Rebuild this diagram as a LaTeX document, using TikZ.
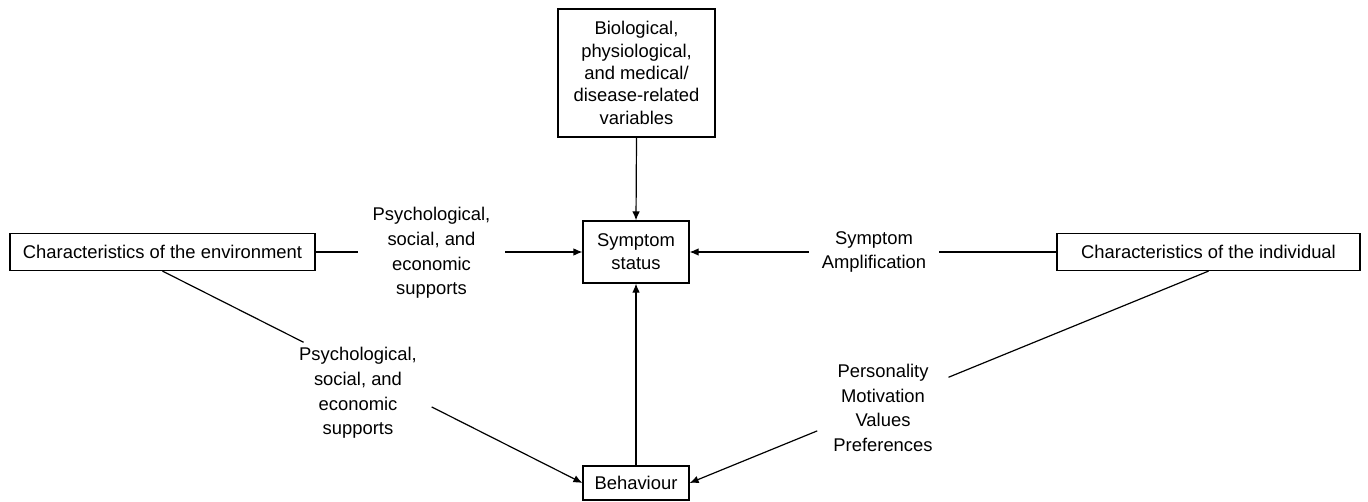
\documentclass[tikz,border=0pt]{standalone}
\usepackage{fontspec}
\setmainfont{Liberation Sans}
\usetikzlibrary{arrows.meta,calc}
\begin{document}
\begin{tikzpicture}[x=0.5pt,y=-0.5pt,
  font=\fontsize{9.2}{11.2}\selectfont,
  box/.style={draw, line width=0.6pt, align=center, inner sep=0pt},
  lab/.style={align=center, inner sep=0pt, font=\fontsize{9.2}{12.3}\selectfont},
  conn/.style={line width=0.6pt},
  arr/.style={conn, -{Latex[length=4.5pt,width=3.8pt]}}]
\useasboundingbox (0,0) rectangle (1368,502);
\node[box, minimum width=78.5pt, minimum height=64pt] (bio) at (636.5,73)
  {Biological,\\physiological,\\and medical/\\disease-related\\variables};
\node[box, minimum width=53pt, minimum height=31pt, font=\fontsize{9.2}{11.6}\selectfont] (sym) at (636,252) {Symptom\\status};
\node[box, minimum width=152.5pt, minimum height=18.5pt] (env) at (162.5,252) {Characteristics of the environment};
\node[box, minimum width=151.5pt, minimum height=18.5pt] (ind) at (1208.5,252) {Characteristics of the individual};
\node[box, minimum width=53pt, minimum height=17pt] (beh) at (636,483) {Behaviour};
\node[lab, minimum width=73.5pt] (lab1) at (431.5,253) {Psychological,\\social, and\\economic\\supports};
\node[lab, minimum width=65pt] (lab2) at (874,252) {Symptom\\Amplification};
\node[lab] (lab3) at (358,393) {Psychological,\\social, and\\economic\\supports};
\node[lab] (lab4) at (883,408) {Personality\\Motivation\\Values\\Preferences};
\draw[arr] (bio.south) -- (sym.north);
\draw[arr] (beh.north) -- (sym.south);
\draw[conn] (env.east) -- (env.east -| lab1.west);
\draw[arr] (sym.west -| lab1.east) -- (sym.west);
\draw[conn] (ind.west) -- (ind.west -| lab2.east);
\draw[arr] (sym.east -| lab2.west) -- (sym.east);
\draw[conn] (env.south) -- ($(env.south)!0.336!(beh.west)$);
\draw[arr] ($(env.south)!0.641!(beh.west)$) -- (beh.west);
\draw[conn] (ind.south) -- ($(ind.south)!0.501!(beh.east)$);
\draw[arr] ($(ind.south)!0.754!(beh.east)$) -- (beh.east);
\end{tikzpicture}
\end{document}
